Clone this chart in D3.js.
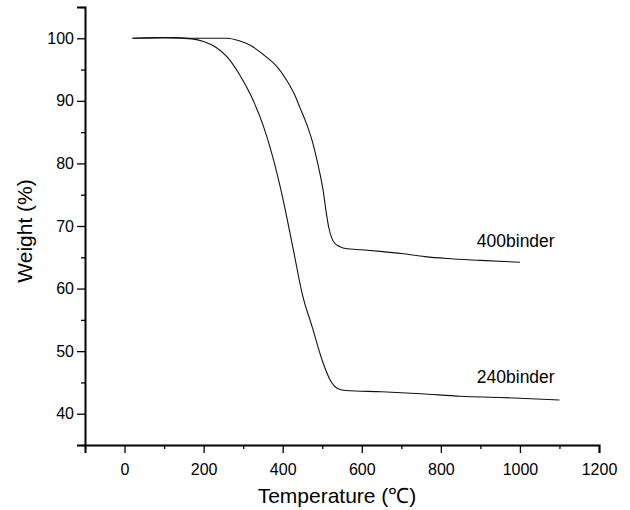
<!DOCTYPE html>
<html>
<head>
<meta charset="utf-8">
<script src="https://cdn.jsdelivr.net/npm/d3@7"></script>
<style>
  html, body { margin: 0; padding: 0; background: #fff; }
  svg { display: block; font-family: "Liberation Sans", Arial, sans-serif; }
</style>
</head>
<body>
<svg id="chart" width="630" height="510"></svg>
<script>
// Data (temperature in °C, weight in %)
const temp240 = [20, 100, 170, 200, 230, 260, 290, 320, 350, 375, 400, 426, 450, 475, 500, 520, 540, 560, 650, 750, 850, 950, 1100];
const weight240 = [100.0, 100.1, 99.9, 99.5, 98.6, 97.0, 94.3, 90.8, 86.2, 81.0, 74.5, 66.5, 59.0, 53.8, 48.5, 45.4, 44.0, 43.7, 43.5, 43.2, 42.8, 42.6, 42.2];
const temp400 = [20, 100, 200, 258, 290, 320, 359, 385, 410, 430, 443, 460, 476, 490, 502, 510, 517, 524, 532, 545, 560, 600, 653, 700, 760, 815, 900, 1000];
const weight400 = [100.0, 100.1, 100.0, 100.0, 99.6, 98.8, 97.0, 95.5, 93.3, 91.0, 89.0, 86.4, 83.3, 79.6, 75.8, 72.2, 69.6, 68.1, 67.2, 66.7, 66.4, 66.2, 65.9, 65.6, 65.1, 64.8, 64.5, 64.2];
const seriesNames = ["400binder", "240binder"];
const labelPos = [[891, 66.6], [891, 44.9]];
const xTicks = [0, 200, 400, 600, 800, 1000, 1200];
const yTicks = [40, 50, 60, 70, 80, 90, 100];
const xDomain = [-100, 1200];
const yDomain = [35, 105];

const svg = d3.select("#chart");
const x = d3.scaleLinear().domain(xDomain).range([85, 599]);
const y = d3.scaleLinear().domain(yDomain).range([445, 7]);

// minor ticks
const xMinor = d3.range(-100, 1201, 100).filter(v => !xTicks.includes(v));
const yMinor = d3.range(35, 106, 5).filter(v => !yTicks.includes(v));

const gx = svg.append("g").attr("transform", "translate(0,445)");
gx.call(d3.axisBottom(x).tickValues(xTicks).tickSize(8).tickPadding(11).tickFormat(d3.format("d")));
gx.append("g").call(d3.axisBottom(x).tickValues(xMinor).tickSize(4).tickFormat(""))
  .select(".domain").remove();
gx.select(".domain").attr("stroke-width", 2);
gx.selectAll(".tick line").attr("stroke-width", 1.3);
gx.selectAll(".tick text").attr("font-size", 16).attr("fill", "#000").attr("font-family", "Liberation Sans, Arial, sans-serif");

const gy = svg.append("g").attr("transform", "translate(85,0)");
gy.call(d3.axisLeft(y).tickValues(yTicks).tickSize(8).tickPadding(3).tickFormat(d3.format("d")));
gy.append("g").call(d3.axisLeft(y).tickValues(yMinor).tickSize(4).tickFormat(""))
  .select(".domain").remove();
gy.select(".domain").attr("stroke-width", 2);
gy.selectAll(".tick line").attr("stroke-width", 1.3);
gy.selectAll(".tick text").attr("font-size", 16).attr("fill", "#000").attr("font-family", "Liberation Sans, Arial, sans-serif");

// lines
const line = d3.line().x(d => x(d[0])).y(d => y(d[1])).curve(d3.curveMonotoneX);
const s400 = temp400.map((t, i) => [t, weight400[i]]);
const s240 = temp240.map((t, i) => [t, weight240[i]]);
[s400, s240].forEach(s => {
  svg.append("path").datum(s).attr("d", line)
    .attr("fill", "none").attr("stroke", "#111").attr("stroke-width", 1.1);
});

// series labels
seriesNames.forEach((n, i) => {
  svg.append("text").attr("x", x(labelPos[i][0])).attr("y", y(labelPos[i][1]))
    .attr("font-size", 17.5).attr("fill", "#000").text(n);
});

// axis titles
svg.append("text").attr("x", 337).attr("y", 503).attr("text-anchor", "middle")
  .attr("font-size", 21).attr("fill", "#000").text("Temperature (℃)");
svg.append("text").attr("transform", "translate(32,231) rotate(-90)").attr("text-anchor", "middle")
  .attr("font-size", 21).attr("fill", "#000").text("Weight (%)");
</script>
</body>
</html>
